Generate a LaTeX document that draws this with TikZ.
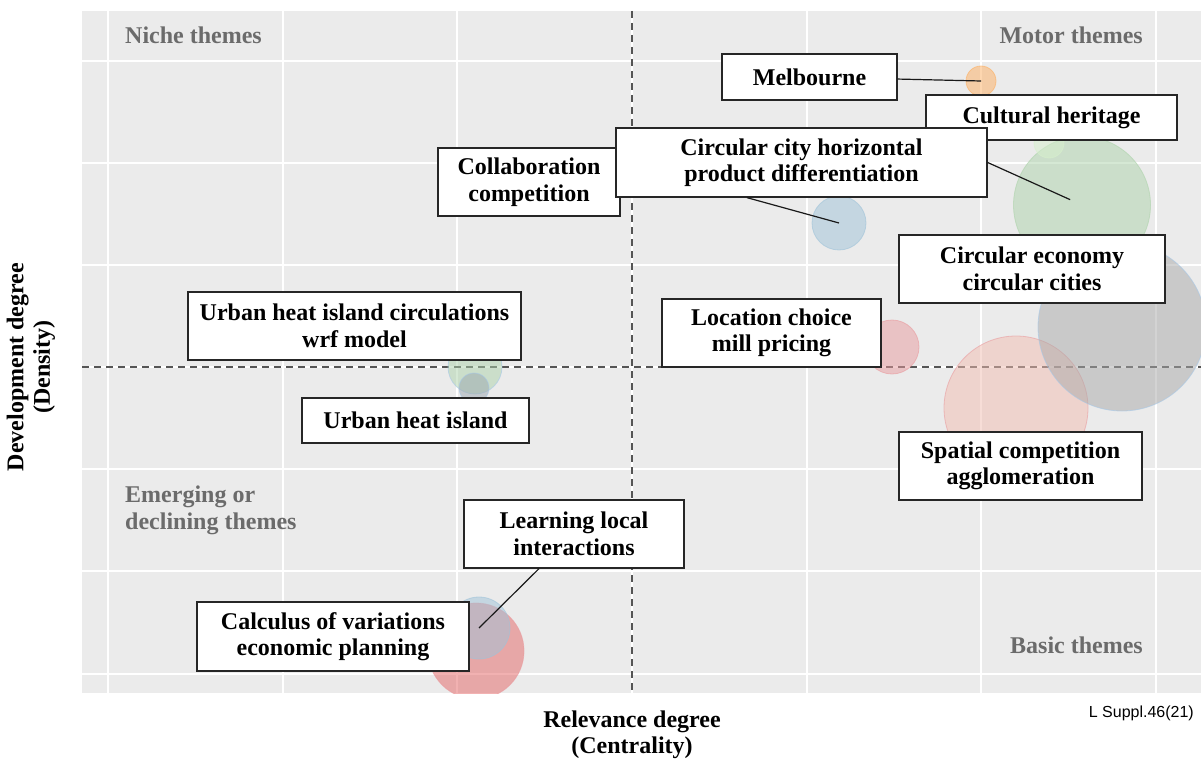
\documentclass[tikz,border=0pt]{standalone}
\usepackage{fontspec}
\setmainfont{Liberation Serif}
\newfontfamily\notefont{Liberation Sans}
\usepackage{xcolor}
\definecolor{panelbg}{HTML}{EBEBEB}
\definecolor{quadgray}{HTML}{6B6B6B}
\definecolor{midgray}{HTML}{555555}
\definecolor{orgb}{HTML}{FDAF61}
\definecolor{grnb}{HTML}{ADD3AB}
\definecolor{lgrnb}{HTML}{D7F0CD}
\definecolor{blub}{HTML}{9FC3D9}
\definecolor{gryb}{HTML}{A9A9A9}
\definecolor{skyb}{HTML}{A6C8E8}
\definecolor{pnkb}{HTML}{E99B9F}
\definecolor{salb}{HTML}{F1BDB1}
\definecolor{redb}{HTML}{E56565}
\definecolor{slateb}{HTML}{9BA7B0}

\begin{document}
\begin{tikzpicture}[
    x=1pt, y=-1pt,
    lbl/.style={draw=black!85, line width=1.3pt, fill=white, inner sep=0pt, align=center, font=\bfseries\fontsize{24}{26.5}\selectfont},
    quad/.style={text=quadgray, inner sep=0pt, align=left, font=\bfseries\fontsize{24}{26.5}\selectfont},
    axlab/.style={inner sep=0pt, align=center, font=\bfseries\fontsize{24}{26.5}\selectfont},
    bub/.style={circle, inner sep=0pt, fill opacity=0.5, draw opacity=0.6, line width=0.8pt},
    gridline/.style={white, line width=1.5pt},
    quadline/.style={draw=midgray, line width=1.2pt, dash pattern=on 7pt off 5pt},
    seg/.style={black!90, line width=1.2pt}
]
\useasboundingbox (0,0) rectangle (1201,762);
\fill[panelbg] (82,11) rectangle (1201,693);
\foreach \gx in {108,283,457,632,807,981,1156}
  \draw[gridline] (\gx,11) -- (\gx,693);
\foreach \gy in {61,163,265,367,469,571,674}
  \draw[gridline] (82,\gy) -- (1201,\gy);
\draw[quadline] (632,11) -- (632,693);
\draw[quadline] (82,367) -- (1201,367);

\node[quad, anchor=west] (niche) at (125,35) {Niche themes};
\node[quad, anchor=east] (motor) at (1143,35) {Motor themes};
\node[quad, anchor=west] (emerg) at (125,510.5) {Emerging or\\declining themes};
\node[quad, anchor=east] (basic) at (1143,645) {Basic themes};

\begin{scope}
\clip (82,11) rectangle (1201,693);
\node[bub, fill=orgb, draw=orgb, minimum size=30pt] (b-melb) at (981,81) {};
\node[bub, fill=grnb, draw=grnb, minimum size=137pt] (b-green) at (1082,205) {};
\node[bub, fill=lgrnb, draw=lgrnb, minimum size=30pt] (b-cult) at (1049,143) {};
\node[bub, fill=blub, draw=blub, minimum size=54pt] (b-blue) at (839,223) {};
\node[bub, fill=salb, draw=pnkb, minimum size=144pt] (b-spat) at (1016,408) {};
\node[bub, fill=gryb, draw=skyb, minimum size=168pt] (b-econ) at (1122,327) {};
\node[bub, fill=pnkb, draw=pnkb, minimum size=54pt] (b-loc) at (892,347) {};
\node[bub, fill=grnb, draw=skyb, minimum size=54pt] (b-uhic) at (475,367) {};
\node[bub, fill=slateb, draw=skyb, minimum size=30pt] (b-uhi) at (474,388) {};
\node[bub, fill=redb, draw=pnkb, minimum size=96pt] (b-calc) at (476,651) {};
\node[bub, fill=blub, draw=blub, minimum size=62pt] (b-learn) at (479,628) {};
\end{scope}

\node[lbl, minimum width=182pt, minimum height=68pt] (collab) at (529,182) {Collaboration\\competition};
\node[lbl, minimum width=251pt, minimum height=45pt] (cult) at (1051.5,117.5) {Cultural heritage};
\node[lbl, minimum width=371pt, minimum height=69pt] (circ) at (801.5,162.5) {Circular city horizontal\\product differentiation};
\node[lbl, minimum width=175pt, minimum height=46pt] (melb) at (809.5,77) {Melbourne};
\node[lbl, minimum width=266pt, minimum height=68pt] (econ) at (1032,269) {Circular economy\\circular cities};
\node[lbl, minimum width=219pt, minimum height=68pt] (loc) at (771.5,333) {Location choice\\mill pricing};
\node[lbl, minimum width=243pt, minimum height=68pt] (spat) at (1020.5,466) {Spatial competition\\agglomeration};
\node[lbl, minimum width=333pt, minimum height=68pt] (uhic) at (354.5,326) {Urban heat island circulations\\wrf model};
\node[lbl, minimum width=227pt, minimum height=45pt] (uhi) at (415.5,420.5) {Urban heat island};
\node[lbl, minimum width=220pt, minimum height=68pt] (learn) at (574,534) {Learning local\\interactions};
\node[lbl, minimum width=272pt, minimum height=69pt] (calc) at (333,636.5) {Calculus of variations\\economic planning};

\draw[seg] (melb) -- (b-melb.center);
\draw[seg] ([xshift=-54.5pt]circ.south) -- (b-blue.center);
\draw[seg, shorten >=13pt] (circ.east) -- (b-green.center);
\draw[seg] (learn) -- (b-learn.center);

\node[axlab] (xlab) at (632,735) {Relevance degree\\(Centrality)};
\node[axlab, rotate=90] (ylab) at (31,367) {Development degree\\(Density)};
\node[inner sep=0pt, anchor=east, font=\notefont\fontsize{16}{18}\selectfont] (src) at (1194,713) {L Suppl.46(21)};
\end{tikzpicture}
\end{document}
